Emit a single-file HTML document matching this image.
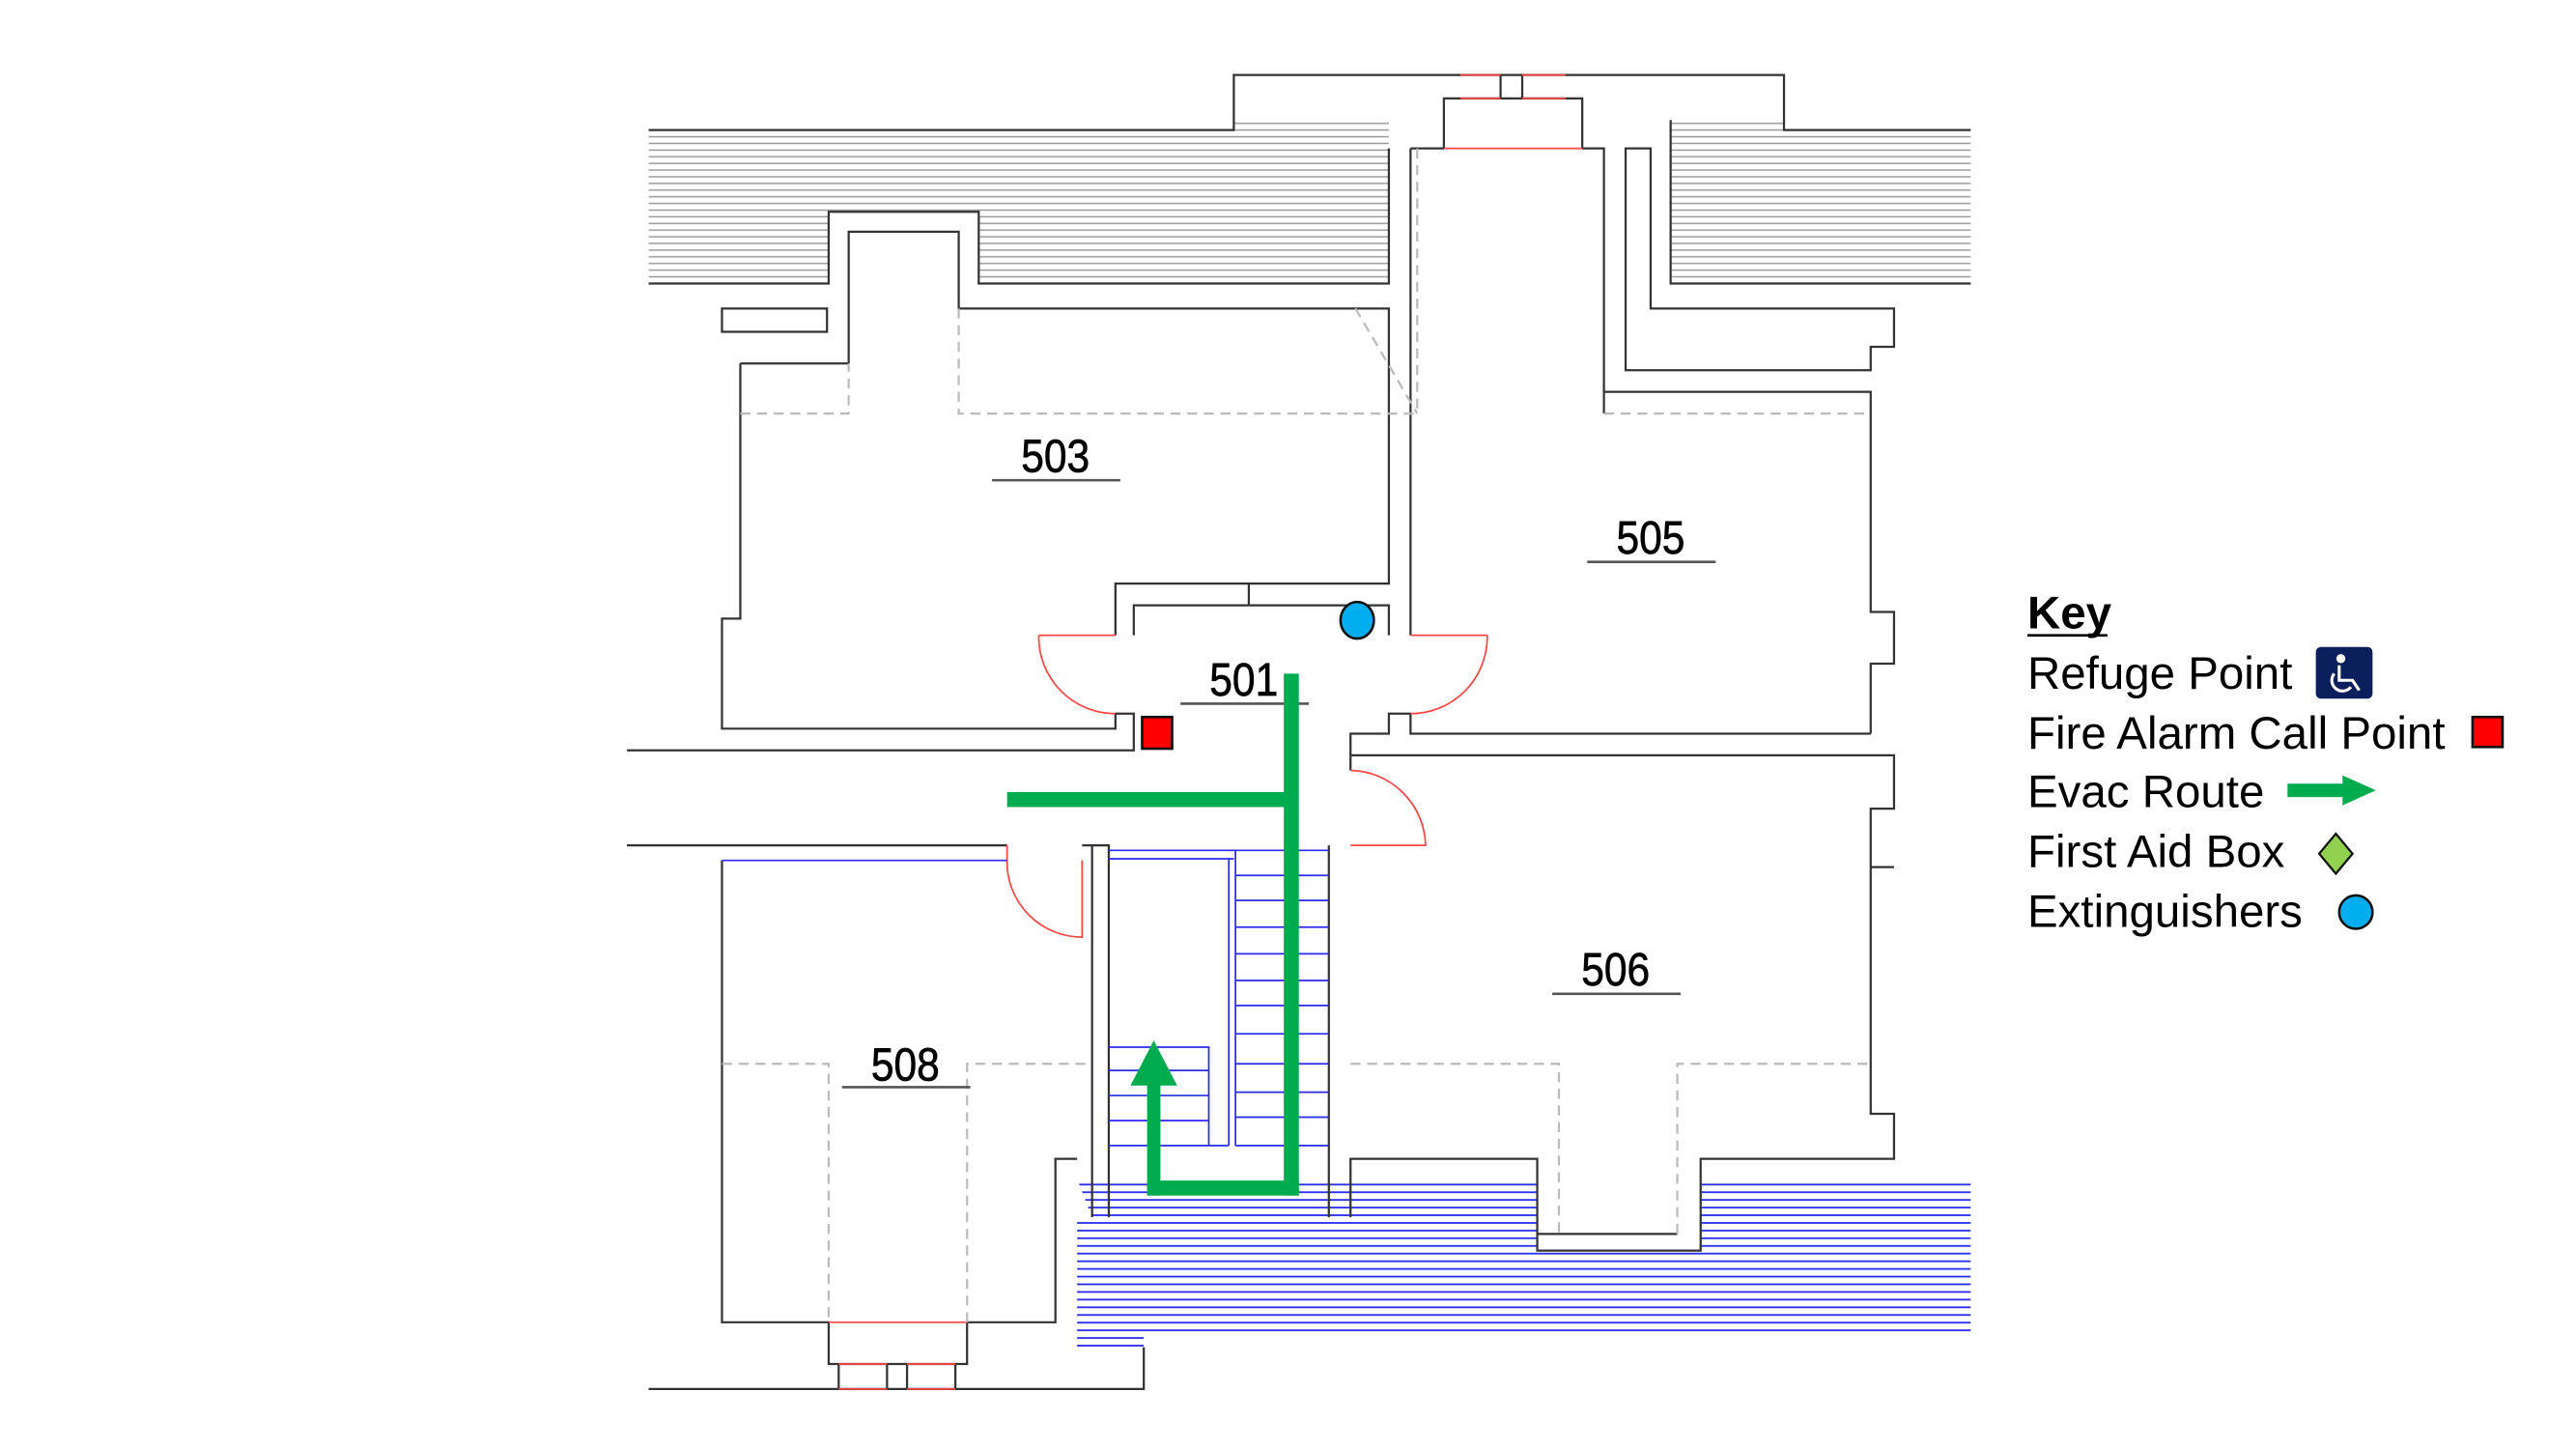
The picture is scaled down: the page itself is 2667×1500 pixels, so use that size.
<!DOCTYPE html>
<html><head><meta charset="utf-8"><style>
html,body{margin:0;padding:0;background:#fff;width:2667px;height:1500px;overflow:hidden}
svg{display:block}
text{font-family:"Liberation Sans",sans-serif}
</style></head><body>
<svg width="2667" height="1500" viewBox="0 0 1545 869" xmlns="http://www.w3.org/2000/svg">
<defs>
<pattern id="hg" width="10" height="4" patternUnits="userSpaceOnUse"><line x1="0" y1="2" x2="10" y2="2" stroke="#999" stroke-width="0.9"/></pattern>
<pattern id="hb" width="10" height="4.6" patternUnits="userSpaceOnUse"><line x1="0" y1="2" x2="10" y2="2" stroke="#2020ee" stroke-width="1"/></pattern>
</defs>
<path d="M389 80 H740 V73 H833 V170 H587 V127 H497 V170 H389 Z" fill="url(#hg)"/>
<path d="M1002 73 H1070 V80 H1182 V170 H1002 Z" fill="url(#hg)"/>
<path d="M646 707 H810 V730 H655 Z" fill="url(#hb)"/>
<path d="M646 730 H922 V750 H1020 V707 H1182 V800 H686 V808 H646 Z" fill="url(#hb)"/>
<path d="M810 707 H922 V730 H810 Z" fill="url(#hb)"/>
<g fill="none" stroke="#333" stroke-width="1.3">
<path d="M389 78 H740 V45 H1070 V78 H1182"/>
<path d="M389 170 H497 V127 H587 V170 H833 V89 "/>
<path d="M509 218 V139 H575 V185 H833 V350 H669 V381"/>
<path d="M1002 72 V170 H1182"/>
<path d="M866 89 V59 H949 V89"/>
<path d="M900 45 V59 M913 45 V59"/>
<path d="M846 89 H866 M949 89 H962 V248"/>
<path d="M846 89 V381"/>
<path d="M975 89 H990 V185 H1136 V208 H1122 V222 H975 Z"/>
<path d="M962 235 H1122 V367 H1136 V398 H1122 V440 M1122 440 H846 V428 H833 V440 H810 V462"/>
<path d="M433 185 H496 V199 H433 Z"/>
<path d="M444 218 H509 M444 218 V371 H433 V437 H669 V428 H680 V450 H376"/>
<path d="M680 381 V363 H833 V381 M749 350 V363"/>
<path d="M376 507 H604 M649 507 H665 V730 M655 507 V730"/>
<path d="M810 453 H1136 V485 H1122 V520 H1136 M1122 520 V668 H1136 V695 H1020 V750 H922 V695 H810 V730 M797 507 V730"/>
<path d="M433 516 V793 H497 V818 H580 V793 H633 V695 H646 M389 833 H686 V808"/>
<path d="M503 818 V833 M532 818 V833 M544 818 V833 M573 818 V833"/>
<path d="M922 740 H1006" />
</g>
<g fill="none" stroke="#ff4444" stroke-width="1">
<path d="M876 45 H900 M913 45 H939 M876 59 H900 M913 59 H939 M866 89 H949"/>
<path d="M623 381 H669 M623 381 A46 46 0 0 0 669 428"/>
<path d="M846 381 H892 M892 381 A46 46 0 0 1 846 428"/>
<path d="M810 462 A46 46 0 0 1 855 507 H810"/>
<path d="M604 507 V516 A45 45 0 0 0 649 562 V516"/>
<path d="M497 793 H580 M503 818 H532 M544 818 H573 M503 833 H532 M544 833 H573"/>
</g>
<g fill="none" stroke="#bbb" stroke-width="1.3" stroke-dasharray="6 4">
<path d="M444 248 H509 V218 M575 185 V248 H850 M962 248 H1122"/>
<path d="M850 89 V248 M813 185 L850 248"/>
<path d="M433 638 H497 V793 M580 793 V638 H655 M810 638 H935 V740 M1006 740 V638 H1122"/>
</g>
<g fill="none" stroke="#2a2aee" stroke-width="1">
<path d="M433 516 H604 M665 510 H797 M665 515 H740"/>
<path d="M741 510 V687 M737 515 V687 M725 687 H737"/>
<path d="M741 525 H797 M741 540 H797 M741 556 H797 M741 572 H797 M741 588 H797 M741 603 H797 M741 620 H797 M741 638 H797 M741 655 H797 M741 670 H797 M741 687 H797"/>
<path d="M665 628 H725 V687 M665 642 H725 M665 657 H725 M665 672 H725 M665 687 H725"/>
</g>
<g font-size="28" fill="#000" text-anchor="middle" stroke="#000" stroke-width="0.4">
<text x="633" y="283" transform="translate(633 0) scale(0.88 1) translate(-633 0)">503</text>
<text x="990" y="332" transform="translate(990 0) scale(0.88 1) translate(-990 0)">505</text>
<text x="746" y="417" transform="translate(746 0) scale(0.88 1) translate(-746 0)">501</text>
<text x="969" y="591" transform="translate(969 0) scale(0.88 1) translate(-969 0)">506</text>
<text x="543" y="648" transform="translate(543 0) scale(0.88 1) translate(-543 0)">508</text>
</g>
<g stroke="#555" stroke-width="1.5">
<path d="M595 288 H672 M952 337 H1029 M708 422 H785 M931 596 H1008 M505 652 H582"/>
</g>
<g fill="#00ac4e">
<rect x="770" y="404" width="9" height="313"/>
<rect x="604" y="475" width="170" height="9"/>
<rect x="688" y="708" width="91" height="9"/>
<rect x="688" y="648" width="8" height="69"/>
<path d="M692 624 L706 651 H678 Z"/>
</g>
<rect x="685" y="430" width="18" height="19" fill="#f00" stroke="#111" stroke-width="1.5"/>
<ellipse cx="814" cy="372" rx="10" ry="11" fill="#00aeef" stroke="#111" stroke-width="1.5"/>
<g font-size="27.5" fill="#000">
<text x="1216" y="377" font-weight="bold">Key</text>
<path d="M1216 381 H1264" stroke="#000" stroke-width="1.5"/>
<text x="1216" y="413">Refuge Point</text>
<text x="1216" y="449">Fire Alarm Call Point</text>
<text x="1216" y="484">Evac Route</text>
<text x="1216" y="520">First Aid Box</text>
<text x="1216" y="556">Extinguishers</text>
</g>
<rect x="1389" y="388" width="34" height="31" rx="3" fill="#0a1f5c"/>
<g fill="none" stroke="#fff" stroke-width="1.8"><circle cx="1404" cy="395" r="1.8" fill="#fff"/><path d="M1403 399 V408 H1411 L1415 414 M1400 404 A6 6 0 1 0 1410 412"/></g>
<rect x="1483" y="430" width="18" height="18" fill="#f00" stroke="#111" stroke-width="1.5"/>
<path d="M1372 470 H1405 V465 L1425 474 L1405 483 V478 H1372 Z" fill="#00ac4e"/>
<path d="M1401 500 L1411 512 L1401 524 L1391 512 Z" fill="#92d050" stroke="#111" stroke-width="1.3"/>
<circle cx="1413" cy="547" r="10" fill="#00aeef" stroke="#111" stroke-width="1.5"/>
</svg>
</body></html>
